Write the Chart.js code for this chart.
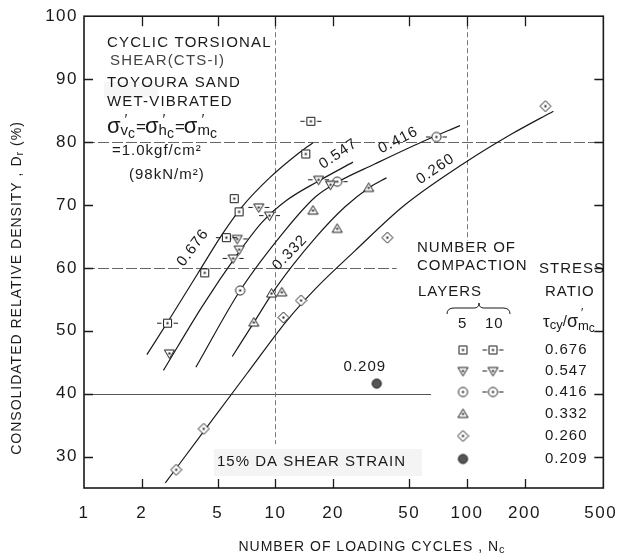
<!DOCTYPE html>
<html>
<head>
<meta charset="utf-8">
<script src="https://cdn.jsdelivr.net/npm/chart.js@4.4.1/dist/chart.umd.min.js"></script>
<style>
  html, body { margin: 0; background: #fff; }
  #wrap { width: 630px; height: 557px; }
</style>
</head>
<body>
<div id="wrap"><canvas id="chart" width="630" height="557"></canvas></div>
<script>
// axis ticks
const xTicks = [1, 2, 5, 10, 20, 50, 100, 200, 500];
const yTicks = [30, 40, 50, 60, 70, 80, 90, 100];

// test points: N_c (cycles to 15% DA) and Dr (%)
// stress ratio 0.676 - squares
const sq5N   = [4.27, 6.09, 6.46, 14.4];
const sq5Dr  = [59.2, 71.0, 68.9, 78.1];
const sq10N  = [2.73, 5.54, 15.3];
const sq10Dr = [51.2, 64.8, 83.3];
// 0.547 - inverted triangles
const dn5N   = [2.79, 6.46, 19.4];
const dn5Dr  = [46.4, 62.9, 73.2];
const dn10N  = [6.01, 6.31, 8.18, 9.31, 16.8];
const dn10Dr = [61.5, 64.6, 69.6, 68.3, 74.0];
// 0.416 - circles
const ci5N   = [6.54];
const ci5Dr  = [56.4];
const ci10N  = [21.0, 69.3];
const ci10Dr = [73.7, 80.8];
// 0.332 - triangles
const upN    = [7.71, 9.54, 10.8, 15.7, 21.0, 30.7];
const upDr   = [51.3, 55.9, 56.1, 69.1, 66.2, 72.7];
// 0.260 - diamonds
const diN    = [3.03, 4.22, 11.0, 13.6, 38.4, 257];
const diDr   = [27.9, 34.4, 52.1, 54.8, 64.8, 85.7];
// 0.209 - filled circle
const fcN    = [33.8];
const fcDr   = [41.6];

// fitted curves
const c676N  = [2.13, 2.83, 3.93, 5.29, 6.69, 9.31, 13.3, 15.7];
const c676Dr = [46.2, 52.1, 59.1, 65.4, 69.7, 74.3, 78.3, 79.9];
const c547N  = [2.60, 4.17, 6.31, 8.48, 11.4, 16.8, 25.4];
const c547Dr = [43.7, 54.0, 62.1, 67.2, 70.7, 73.8, 76.8];
const c416N  = [3.84, 6.54, 11.4, 16.2, 21.3, 33.0, 58.1, 92.0];
const c416Dr = [44.2, 56.4, 66.2, 71.3, 73.7, 76.5, 80.0, 82.6];
const c332N  = [5.95, 7.71, 10.1, 16.2, 23.1, 30.7, 38.0];
const c332Dr = [45.9, 51.3, 56.9, 64.8, 69.7, 72.7, 74.3];
const c260N  = [2.66, 4.22, 7.10, 11.4, 16.2, 26.0, 47.0, 95.3, 172, 283];
const c260Dr = [25.8, 34.0, 43.2, 51.5, 56.7, 62.7, 69.9, 76.5, 81.3, 84.9];

const ratios = ['0.676', '0.547', '0.416', '0.332', '0.260', '0.209'];

const FONT = '"Liberation Sans", Arial, sans-serif';
const INK = '#1a1a1a';

const pts = (xs, ys) => xs.map((x, i) => ({ x, y: ys[i] }));

// small canvas symbols used as point styles
function marker(shape, dashed, filled) {
  const h = 13, w = dashed ? 23 : 13;
  const cv = document.createElement('canvas');
  cv.width = w; cv.height = h;
  const g = cv.getContext('2d');
  const cx = w / 2, cy = h / 2;
  g.strokeStyle = INK; g.fillStyle = '#fff'; g.lineWidth = 1;
  g.beginPath();
  if (shape === 'square') g.rect(cx - 4, cy - 4, 8, 8);
  else if (shape === 'circle') g.arc(cx, cy, 4.6, 0, Math.PI * 2);
  else if (shape === 'down') { g.moveTo(cx - 5, cy - 3.5); g.lineTo(cx + 5, cy - 3.5); g.lineTo(cx, cy + 5); g.closePath(); }
  else if (shape === 'up') { g.moveTo(cx - 5, cy + 3.5); g.lineTo(cx + 5, cy + 3.5); g.lineTo(cx, cy - 5); g.closePath(); }
  else if (shape === 'diamond') { g.moveTo(cx, cy - 5.5); g.lineTo(cx + 5.5, cy); g.lineTo(cx, cy + 5.5); g.lineTo(cx - 5.5, cy); g.closePath(); }
  if (filled) {
    g.fillStyle = '#555'; g.fill(); g.stroke();
  } else {
    g.fill(); g.stroke();
    g.fillStyle = INK; g.fillRect(cx - 1, cy - 1, 2, 2);
  }
  if (dashed) {
    g.beginPath();
    g.moveTo(1, cy); g.lineTo(cx - 6, cy);
    g.moveTo(cx + 6, cy); g.lineTo(w - 1, cy);
    g.stroke();
  }
  return cv;
}

const M = {
  sq5: marker('square'), sq10: marker('square', true),
  dn5: marker('down'), dn10: marker('down', true),
  ci5: marker('circle'), ci10: marker('circle', true),
  up: marker('up'), di: marker('diamond'), fc: marker('circle', false, true)
};

const markerSet = (data, style) => ({
  data, showLine: false, pointStyle: style, pointRadius: 6, order: 0
});
const curve = (data) => ({
  data, showLine: true, pointRadius: 0, borderColor: INK, borderWidth: 1.2,
  cubicInterpolationMode: 'monotone', fill: false, order: 1
});

// draw a run of text pieces (size, vertical shift), returns width
function runs(ctx, x, y, parts, align) {
  let total = 0;
  parts.forEach(p => {
    ctx.font = `${p.s}px ${FONT}`;
    p.w = p.adv === false ? 0 : ctx.measureText(p.t).width;
    total += p.w;
  });
  let cx = align === 'center' ? x - total / 2 : x;
  parts.forEach(p => {
    ctx.font = `${p.s}px ${FONT}`;
    ctx.fillText(p.t, cx + (p.dx || 0), y + (p.dy || 0));
    cx += p.w;
  });
  return total;
}

// labels on the curves, anchored in data units
const curveLabels = [
  { t: '0.676', n: 3.71, dr: 63.2, a: -53 },
  { t: '0.547', n: 21.3, dr: 78.1, a: -34 },
  { t: '0.416', n: 43.8, dr: 80.3, a: -27 },
  { t: '0.332', n: 11.9, dr: 62.4, a: -46 },
  { t: '0.260', n: 68.5, dr: 75.7, a: -34 },
  { t: '0.209', n: 29.3, dr: 44.2, a: 0 }
];

// thin reference lines across the plot
const refLines = {
  h: [ { y: 40, to: 65, dash: [], color: '#555' },
       { y: 60, to: 43, dash: [11, 3], color: '#666' },
       { y: 80, to: 516, dash: [11, 3], color: '#666' } ],
  v: [ { x: 10, from: 32, dash: [5, 3] },
       { x: 100, from: 64.3, dash: [5, 3] } ]
};

const framePlugin = {
  id: 'frame',
  beforeDraw(chart) {
    chart.ctx.letterSpacing = '1.5px';
  },
  beforeDatasetsDraw(chart) {
    const { ctx, chartArea: a, scales: { x, y } } = chart;
    ctx.save();
    ctx.lineWidth = 1;
    refLines.h.forEach(r => {
      const py = Math.round(y.getPixelForValue(r.y)) + 0.5;
      ctx.strokeStyle = r.color; ctx.setLineDash(r.dash);
      ctx.beginPath(); ctx.moveTo(a.left, py); ctx.lineTo(Math.min(a.right, x.getPixelForValue(r.to)), py); ctx.stroke();
    });
    refLines.v.forEach(r => {
      const px = Math.round(x.getPixelForValue(r.x)) + 0.5;
      ctx.strokeStyle = '#777'; ctx.setLineDash(r.dash);
      ctx.beginPath(); ctx.moveTo(px, a.top); ctx.lineTo(px, y.getPixelForValue(r.from)); ctx.stroke();
    });
    ctx.setLineDash([]);
    // inward tick marks on all four sides
    ctx.strokeStyle = INK; ctx.lineWidth = 1.3;
    xTicks.filter(v => v > 1 && v < 500).forEach(v => {
      const px = Math.round(x.getPixelForValue(v)) + 0.5;
      ctx.beginPath();
      ctx.moveTo(px, a.bottom); ctx.lineTo(px, a.bottom - 9);
      ctx.moveTo(px, a.top); ctx.lineTo(px, a.top + 10);
      ctx.stroke();
    });
    yTicks.filter(v => v < 100).forEach(v => {
      const py = Math.round(y.getPixelForValue(v)) + 0.5;
      ctx.beginPath();
      ctx.moveTo(a.left, py); ctx.lineTo(a.left + 9, py);
      ctx.moveTo(a.right, py); ctx.lineTo(a.right - 9, py);
      ctx.stroke();
    });
    // stippled patches behind two captions
    ctx.fillStyle = 'rgba(0,0,0,0.045)';
    ctx.fillRect(214, 449, 208, 27);
    ctx.fillStyle = 'rgba(0,0,0,0.035)';
    ctx.fillRect(104, 82, 54, 16);
    ctx.restore();
  },
  afterDraw(chart) {
    const { ctx, chartArea: a, scales: { x, y } } = chart;
    ctx.save();
    ctx.letterSpacing = '0px';
    ctx.strokeStyle = INK; ctx.lineWidth = 1.6;
    ctx.strokeRect(a.left, a.top, a.right - a.left, a.bottom - a.top);

    ctx.fillStyle = INK;
    ctx.textBaseline = 'middle';
    ctx.textAlign = 'left';
    ctx.letterSpacing = '1.2px';

    // test conditions block
    const sz = 15;
    runs(ctx, 107, 43, [{ t: 'CYCLIC TORSIONAL', s: sz }]);
    ctx.fillStyle = '#444';
    runs(ctx, 110, 61, [{ t: 'SHEAR(CTS-I)', s: sz }]);
    ctx.fillStyle = INK;
    runs(ctx, 107, 83, [{ t: 'TOYOURA SAND', s: sz }]);
    runs(ctx, 107, 102, [{ t: 'WET-VIBRATED', s: sz }]);
    ctx.letterSpacing = '0px';
    const sig = (sub) => [
      { t: 'σ', s: 22 },
      { t: '′', s: 15, dy: -7, dx: 4, adv: false },
      { t: sub, s: 15, dy: 4 },
      { t: 'c', s: 14, dy: 7 }
    ];
    runs(ctx, 107, 127, [...sig('v'), { t: '=', s: 17, dx: 1 }, ...sig('h'), { t: '=', s: 17, dx: 1 }, ...sig('m')]);
    ctx.letterSpacing = '1px';
    runs(ctx, 112, 151, [{ t: '=1.0kgf/cm²', s: sz }]);
    runs(ctx, 129, 175, [{ t: '(98kN/m²)', s: sz }]);
    runs(ctx, 217, 462, [{ t: '15% DA SHEAR STRAIN', s: sz }]);

    // curve labels
    curveLabels.forEach(l => {
      ctx.save();
      ctx.translate(x.getPixelForValue(l.n), y.getPixelForValue(l.dr));
      ctx.rotate(l.a * Math.PI / 180);
      ctx.font = `${sz}px ${FONT}`;
      ctx.textAlign = 'center';
      ctx.fillText(l.t, 0, 0);
      ctx.restore();
    });

    // legend block
    runs(ctx, 417, 248, [{ t: 'NUMBER OF', s: sz }]);
    runs(ctx, 417, 266, [{ t: 'COMPACTION', s: sz }]);
    runs(ctx, 539, 269, [{ t: 'STRESS', s: sz }]);
    runs(ctx, 418, 292, [{ t: 'LAYERS', s: sz }]);
    runs(ctx, 545, 292, [{ t: 'RATIO', s: sz }]);
    ctx.beginPath();
    ctx.lineWidth = 1;
    ctx.moveTo(447, 314); ctx.quadraticCurveTo(447, 308, 454, 308);
    ctx.lineTo(474, 308); ctx.quadraticCurveTo(479, 308, 479, 303);
    ctx.quadraticCurveTo(479, 308, 484, 308); ctx.lineTo(503, 308);
    ctx.quadraticCurveTo(510, 308, 510, 314);
    ctx.stroke();
    runs(ctx, 458, 324, [{ t: '5', s: sz }]);
    runs(ctx, 485, 324, [{ t: '10', s: sz }]);
    ctx.letterSpacing = '0px';
    runs(ctx, 543, 322, [
      { t: 'τ', s: 17 }, { t: 'cy', s: 13, dy: 3 }, { t: '/', s: 15 },
      { t: 'σ', s: 18 }, { t: '′', s: 12, dy: -8, dx: 3, adv: false },
      { t: 'm', s: 13, dy: 4 }, { t: 'c', s: 12, dy: 7 }
    ]);
    ctx.letterSpacing = '1px';
    const rows = [350, 371, 392, 414, 436, 459];
    const five = [M.sq5, M.dn5, M.ci5, M.up, M.di, M.fc];
    const ten = [M.sq10, M.dn10, M.ci10];
    rows.forEach((ry, i) => {
      ctx.drawImage(five[i], 463 - five[i].width / 2, ry - five[i].height / 2);
      if (ten[i]) ctx.drawImage(ten[i], 493 - ten[i].width / 2, ry - ten[i].height / 2);
      runs(ctx, 545, ry, [{ t: ratios[i], s: sz }]);
    });

    // axis titles
    ctx.letterSpacing = '1px';
    runs(ctx, 372, 547, [
      { t: 'NUMBER OF LOADING CYCLES , N', s: 14 }, { t: 'c', s: 11, dy: 3 }
    ], 'center');
    ctx.save();
    ctx.translate(17, 288);
    ctx.rotate(-Math.PI / 2);
    runs(ctx, 0, 0, [
      { t: 'CONSOLIDATED RELATIVE DENSITY , D', s: 14 }, { t: 'r', s: 11, dy: 3 }, { t: ' (%)', s: 14 }
    ], 'center');
    ctx.restore();
    ctx.restore();
  }
};

new Chart(document.getElementById('chart'), {
  type: 'line',
  data: {
    datasets: [
      markerSet(pts(sq5N, sq5Dr), M.sq5),
      markerSet(pts(sq10N, sq10Dr), M.sq10),
      markerSet(pts(dn5N, dn5Dr), M.dn5),
      markerSet(pts(dn10N, dn10Dr), M.dn10),
      markerSet(pts(ci5N, ci5Dr), M.ci5),
      markerSet(pts(ci10N, ci10Dr), M.ci10),
      markerSet(pts(upN, upDr), M.up),
      markerSet(pts(diN, diDr), M.di),
      markerSet(pts(fcN, fcDr), M.fc),
      curve(pts(c676N, c676Dr)),
      curve(pts(c547N, c547Dr)),
      curve(pts(c416N, c416Dr)),
      curve(pts(c332N, c332Dr)),
      curve(pts(c260N, c260Dr))
    ]
  },
  options: {
    responsive: false,
    animation: false,
    devicePixelRatio: 1,
    layout: { padding: { top: 15, right: 17, left: 0, bottom: 0 }, autoPadding: false },
    plugins: { legend: { display: false }, tooltip: { enabled: false } },
    scales: {
      x: {
        type: 'logarithmic', min: 1, max: 516,
        grid: { display: false, drawTicks: false },
        border: { display: false },
        afterBuildTicks: s => { s.ticks = xTicks.map(v => ({ value: v })); },
        afterFit: s => { s.height = 69; },
        ticks: {
          autoSkip: false, maxRotation: 0, padding: 15, color: INK,
          font: { family: FONT, size: 17 },
          callback: v => String(v)
        }
      },
      y: {
        min: 25, max: 100,
        grid: { display: false, drawTicks: false },
        border: { display: false },
        afterBuildTicks: s => { s.ticks = yTicks.map(v => ({ value: v })); },
        afterFit: s => { s.width = 84; },
        ticks: {
          padding: 6, color: INK,
          font: { family: FONT, size: 17 },
          callback: v => String(v)
        }
      }
    }
  },
  plugins: [framePlugin]
});
</script>
</body>
</html>
